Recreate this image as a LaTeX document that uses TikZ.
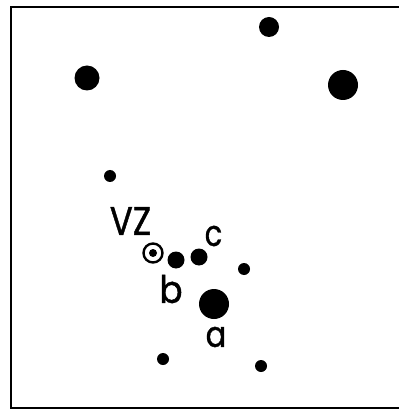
\documentclass[tikz,border=0pt]{standalone}
\usepackage{fontspec}
\newfontfamily\lblfont{Poppins}[FakeBold=1.2]
\begin{document}
\begin{tikzpicture}[x=1pt,y=-1pt,
  dot/.style={circle,fill=black,inner sep=0pt,minimum size=#1},
  lbl/.style={inner sep=0pt}]
\useasboundingbox (0,0) rectangle (398,411);
\fill[white] (0,0) rectangle (398,411);
\draw[line width=2.2pt] (402,7) -- (11,7) -- (11,408) -- (402,408);
\node[dot=20pt] (t) at (269,27) {};
\node[dot=25pt] (l) at (87,78) {};
\node[dot=30pt] (r) at (343,85) {};
\node[dot=12pt] (s1) at (110,176) {};
\node[circle,draw,line width=2.4pt,minimum size=19pt,inner sep=0pt] (vz) at (153,253) {};
\node[dot=8pt] at (vz.center) {};
\node[dot=17pt] (b) at (176,260) {};
\node[dot=17pt] (c) at (199,257) {};
\node[dot=12pt] (s2) at (244,269) {};
\node[dot=30pt] (a) at (214,304) {};
\node[dot=12pt] (s3) at (163,359) {};
\node[dot=12pt] (s4) at (261,366) {};
\node[lbl,xscale=0.85,font=\lblfont\fontsize{40}{40}\selectfont] (lvz) at (130.5,221) {VZ};
\node[lbl,xscale=0.8,font=\lblfont\fontsize{36}{36}\selectfont] (lc) at (213.5,236) {c};
\node[lbl,xscale=0.9,font=\lblfont\fontsize{38}{38}\selectfont] (lb) at (171,289) {b};
\node[lbl,xscale=0.85,font=\lblfont\fontsize{36}{36}\selectfont] (la) at (216,337) {a};
\end{tikzpicture}
\end{document}
